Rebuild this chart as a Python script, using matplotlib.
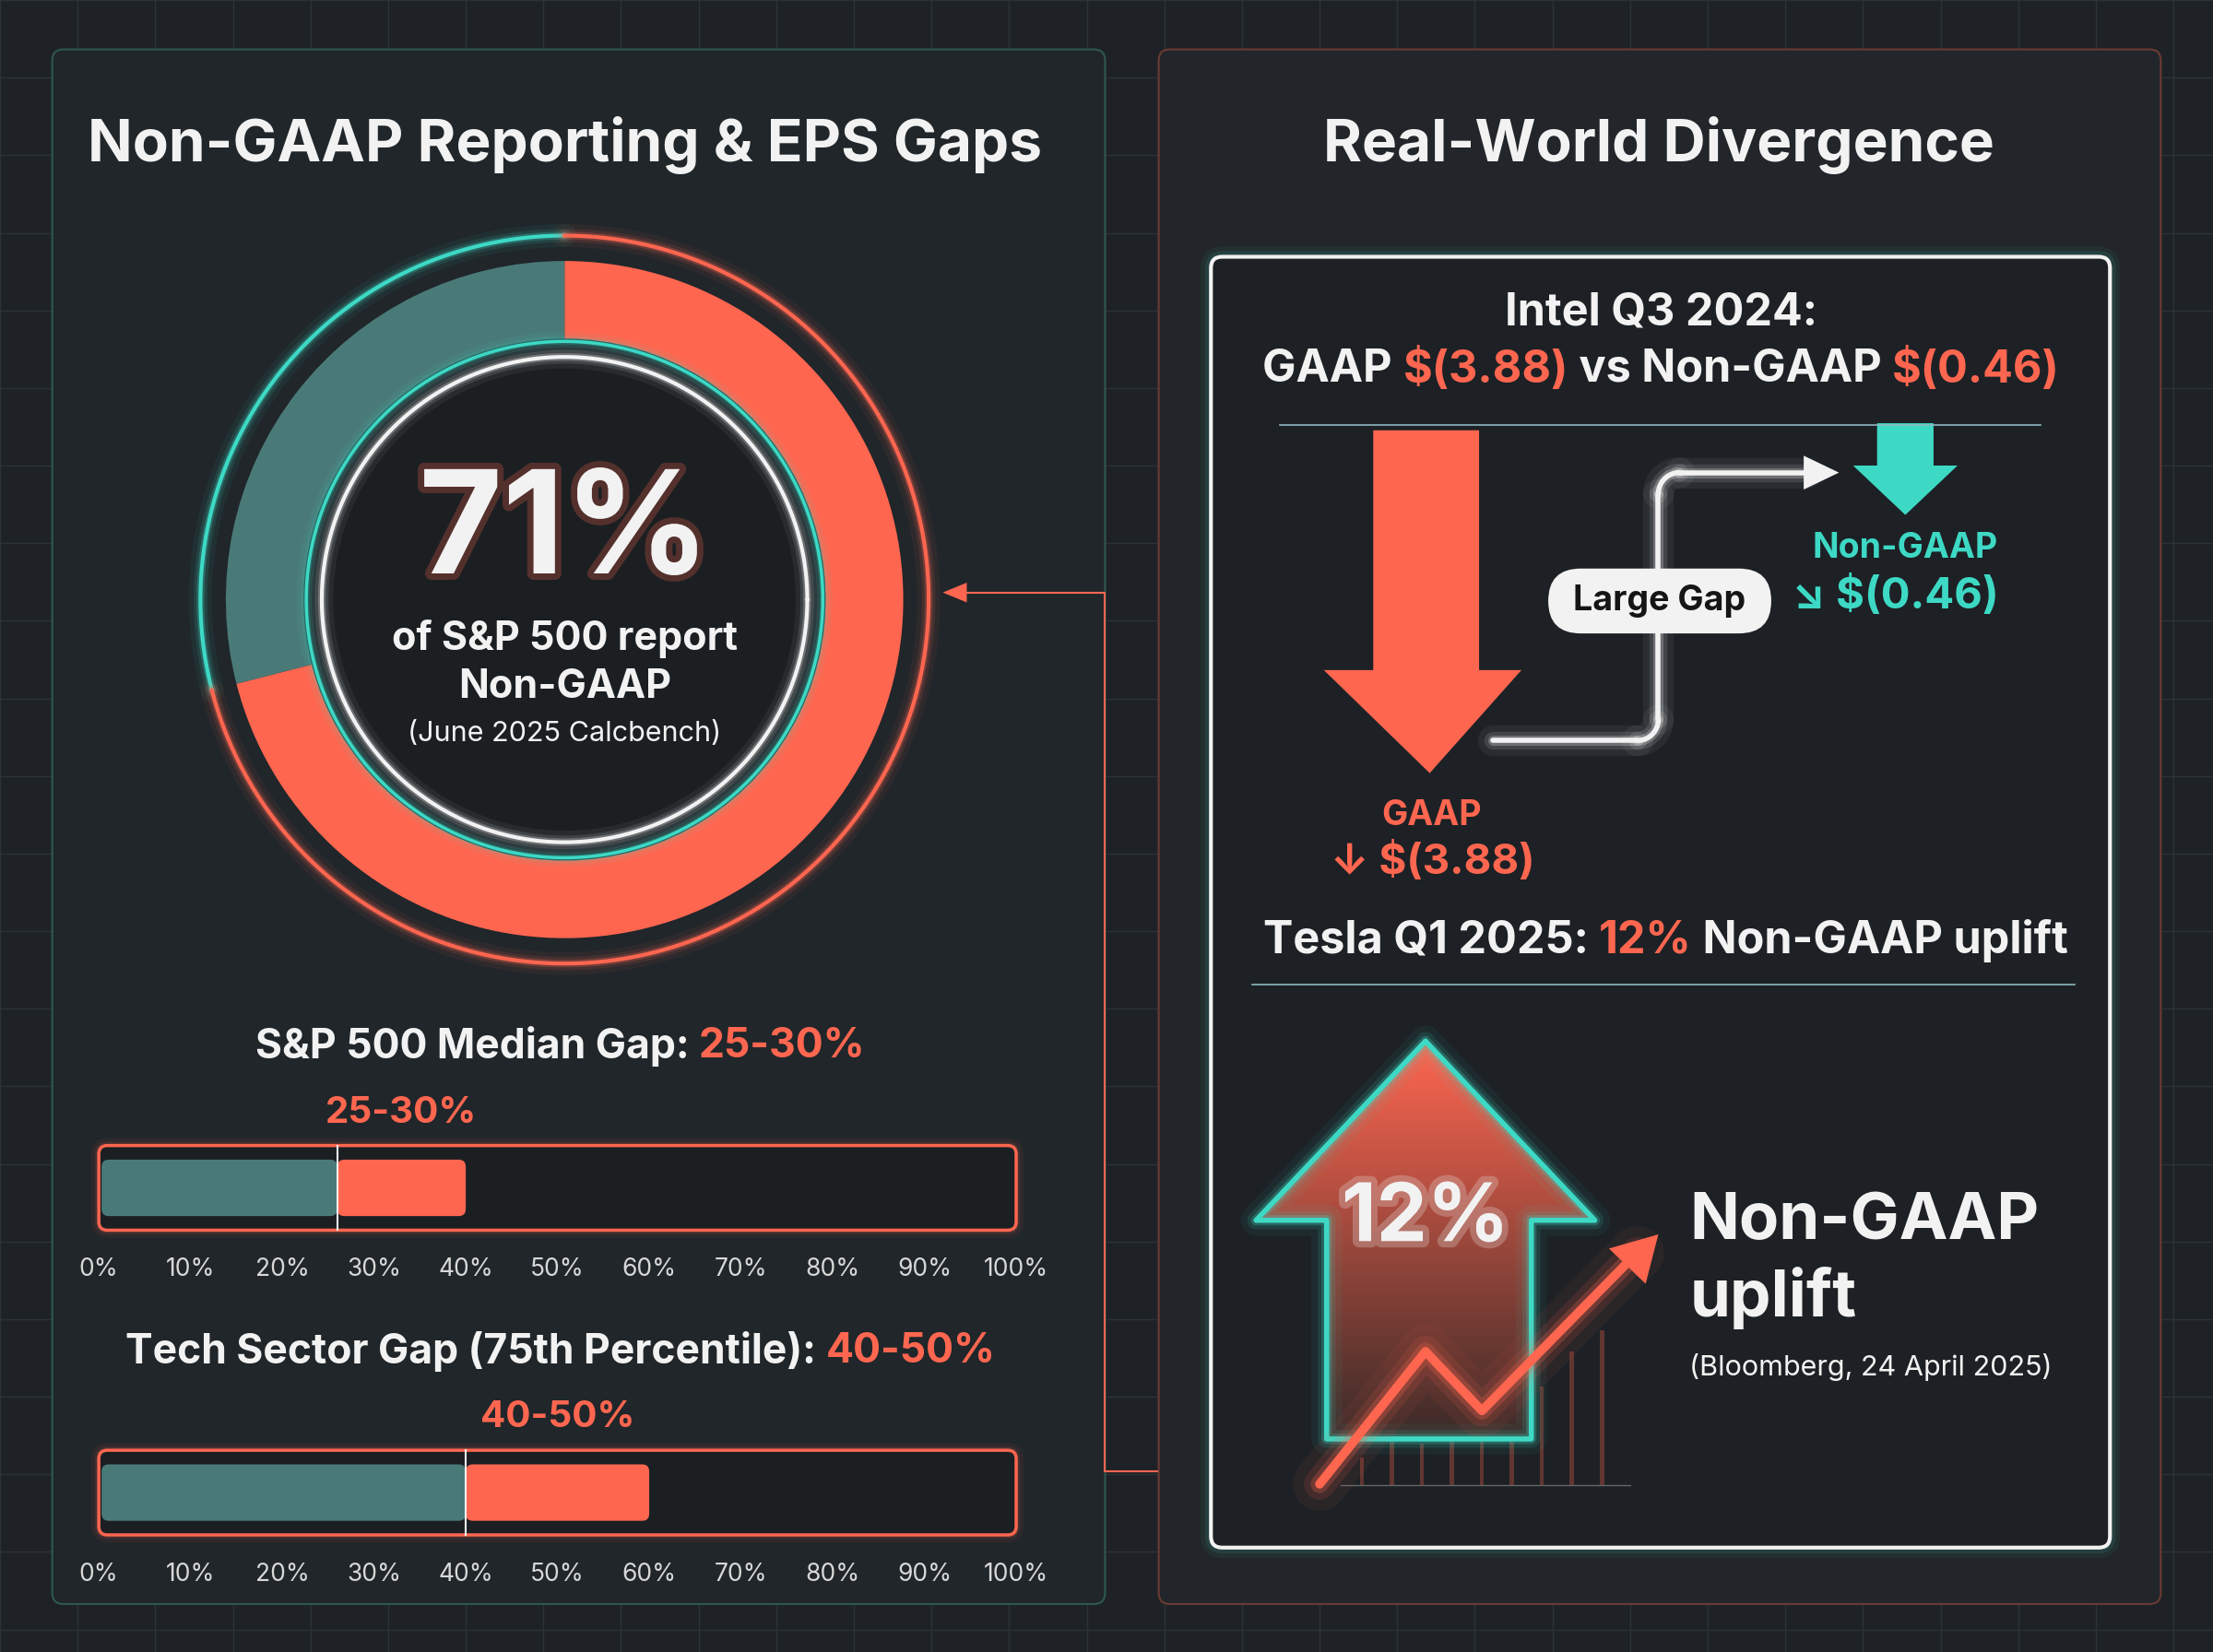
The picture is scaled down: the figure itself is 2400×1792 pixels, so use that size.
import matplotlib.pyplot as plt
import matplotlib.patheffects as pe
from matplotlib.patches import Wedge, Circle, FancyBboxPatch, Rectangle, Polygon
from matplotlib.colors import LinearSegmentedColormap
import numpy as np

# --- data ---
donut_labels = ["Non-GAAP", "GAAP only"]
donut_share = [71, 29]
gap_titles = ["S&P 500 Median Gap: ", "Tech Sector Gap (75th Percentile): "]
gap_ranges = ["25-30%", "40-50%"]
gap_teal = [26, 40]      # teal fill end (%)
gap_red = [40, 60]       # red fill end (%)
tick_labels = ["0%", "10%", "20%", "30%", "40%", "50%", "60%", "70%", "80%", "90%", "100%"]
intel_gaap = "$(3.88)"
intel_nongaap = "$(0.46)"
tesla_uplift = "12%"
spark_heights = [20, 35, 30, 55, 50, 75, 70, 95, 110]

BG = "#1e2226"
RED = "#ff6650"
TEAL = "#3dd9c5"
DIM = "#4a7a78"
WHITE = "#f2f2f2"
FONT = "Inter"

fig = plt.figure(figsize=(24, 17.92), dpi=100)
fig.patch.set_facecolor(BG)
ax = fig.add_axes([0, 0, 1, 1])
ax.set_xlim(0, 1568)
ax.set_ylim(1171, 0)
ax.axis("off")
scale = 1568 / (fig.dpi * 24)

# background grid
for g in np.arange(0, 1568, 55):
    ax.axvline(g, color="#2c3338", lw=1, zorder=0)
for g in np.arange(0, 1171, 55):
    ax.axhline(g, color="#2c3338", lw=1, zorder=0)


def txt(x, y, s, size, color=WHITE, weight="bold", ha="center", glow=None, **kw):
    eff = []
    if glow:
        eff = [pe.withStroke(linewidth=10, foreground=glow, alpha=0.25)]
    return ax.text(x, y, s, fontsize=size, color=color, fontweight=weight, ha=ha,
                   va="center", family=FONT, path_effects=eff, **kw)


def multi_txt(xc, y, parts, size, z=5):
    fig.canvas.draw()
    objs = [txt(0, y, s, size, color=c, ha="left", zorder=z) for s, c in parts]
    ws = [o.get_window_extent(renderer=fig.canvas.get_renderer()).width for o in objs]
    x = xc - sum(ws) * scale / 2
    for o, w in zip(objs, ws):
        o.set_x(x)
        x += w * scale


def glow_line(xs, ys, color, lw, z=3):
    for w, a in [(lw * 6, 0.06), (lw * 3.5, 0.12), (lw * 2, 0.25)]:
        ax.plot(xs, ys, color=color, lw=w, alpha=a, solid_capstyle="round", zorder=z)
    ax.plot(xs, ys, color=color, lw=lw, solid_capstyle="round", zorder=z)


# panels
ax.add_patch(FancyBboxPatch((37, 35), 746, 1102, boxstyle="round,pad=0,rounding_size=8",
                            fc="#20262a", ec="#2f5752", lw=1.5, zorder=1))
ax.add_patch(FancyBboxPatch((821, 35), 710, 1102, boxstyle="round,pad=0,rounding_size=8",
                            fc="#22262a", ec="#6a3a33", lw=1.5, zorder=1))

txt(400, 103, "Non-GAAP Reporting & EPS Gaps", 46)
txt(1175, 103, "Real-World Divergence", 46)

# donut (y axis inverted: data angle 270 = screen top, increasing = screen clockwise)
cx, cy = 400, 425
ang_red = donut_share[0] / sum(donut_share) * 360
ax.add_patch(Wedge((cx, cy), 240, 270, 270 + ang_red, width=55, fc=RED, ec="none", zorder=3))
ax.add_patch(Wedge((cx, cy), 240, 270 + ang_red, 270 + 360, width=55, fc=DIM, ec="none", zorder=3))
th_t = np.radians(np.linspace(90, 90 - ang_red + 360, 200) + 0)
# screen-angle arcs for the thin outer ring
th_r = np.radians(np.linspace(90 - ang_red, 90, 200))
glow_line(cx + 258 * np.cos(th_t), cy - 258 * np.sin(th_t), TEAL, 3)
glow_line(cx + 258 * np.cos(th_r), cy - 258 * np.sin(th_r), RED, 3)
th = np.radians(np.linspace(0, 360, 300))
glow_line(cx + 183 * np.cos(th), cy - 183 * np.sin(th), TEAL, 2.5)
ax.add_patch(Circle((cx, cy), 172, fc="#1b1f22", ec="none", zorder=4))
glow_line(cx + 172 * np.cos(th), cy - 172 * np.sin(th), WHITE, 3, z=5)
txt(400, 380, "71%", 112, glow=RED, zorder=6)
txt(400, 453, "of S&P 500 report", 31, zorder=6)
txt(400, 487, "Non-GAAP", 31, zorder=6)
txt(400, 520, "(June 2025 Calcbench)", 22, weight="normal", zorder=6)

# gap bars
x0, x1 = 70, 720


def px(v):
    return x0 + (x1 - x0) * v / 100


title_y = [742, 958]
label_y = [789, 1005]
bar_y = [812, 1028]
for i in range(2):
    multi_txt(397, title_y[i], [(gap_titles[i], WHITE), (gap_ranges[i], RED)], 32)
    txt(px((gap_teal[i] + gap_red[i]) / 2), label_y[i], gap_ranges[i], 29, color=RED)
    h = 60
    for w, a in [(12, 0.06), (6, 0.12)]:
        ax.add_patch(FancyBboxPatch((x0, bar_y[i]), x1 - x0, h, boxstyle="round,pad=0,rounding_size=6",
                                    fc="none", ec=RED, lw=w, alpha=a, zorder=2))
    ax.add_patch(FancyBboxPatch((x0, bar_y[i]), x1 - x0, h, boxstyle="round,pad=0,rounding_size=6",
                                fc="#1b1f22", ec=RED, lw=2.5, zorder=2))
    ax.add_patch(FancyBboxPatch((x0 + 2, bar_y[i] + 10), px(gap_teal[i]) - x0 - 2, h - 20,
                                boxstyle="round,pad=0,rounding_size=5", fc=DIM, ec="none", zorder=3))
    ax.add_patch(FancyBboxPatch((px(gap_teal[i]), bar_y[i] + 10), px(gap_red[i]) - px(gap_teal[i]), h - 20,
                                boxstyle="round,pad=0,rounding_size=5", fc=RED, ec="none", zorder=3))
    ax.plot([px(gap_teal[i])] * 2, [bar_y[i], bar_y[i] + h], color=WHITE, lw=1.5, zorder=4)
    for k, lab in enumerate(tick_labels):
        txt(px(k * 10), bar_y[i] + 88, lab, 19, weight="normal", color="#d8d8d8")

# right inner box
for w, a in [(16, 0.05), (9, 0.1)]:
    ax.add_patch(FancyBboxPatch((858, 182), 637, 915, boxstyle="round,pad=0,rounding_size=8",
                                fc="none", ec=TEAL, lw=w, alpha=a, zorder=2))
ax.add_patch(FancyBboxPatch((858, 182), 637, 915, boxstyle="round,pad=0,rounding_size=8",
                            fc="#1d2125", ec=WHITE, lw=3, zorder=2))

txt(1177, 222, "Intel Q3 2024:", 35, zorder=5)
multi_txt(1177, 262, [("GAAP ", WHITE), (intel_gaap, RED), (" vs Non-GAAP ", WHITE), (intel_nongaap, RED)], 35)
ax.plot([907, 1446], [301, 301], color="#8fb7c0", lw=1.2, zorder=5)

# big red down arrow
ax.add_patch(Polygon([(973, 305), (1048, 305), (1048, 475), (1078, 475), (1013, 548),
                      (938, 475), (973, 475)], closed=True, fc=RED, ec="none", zorder=4))
txt(1014, 578, "GAAP", 27, color=RED, zorder=5)
txt(1015, 611, "\u2193 " + intel_gaap, 33, color=RED, zorder=5)

# small teal arrow
ax.add_patch(Polygon([(1330, 300), (1370, 300), (1370, 330), (1387, 330), (1350, 365),
                      (1313, 330), (1330, 330)], closed=True, fc=TEAL, ec="none", zorder=4))
txt(1350, 389, "Non-GAAP", 27, color=TEAL, zorder=5)
txt(1343, 423, "\u2198 " + intel_nongaap, 34, color=TEAL, zorder=5)

# connector
glow_line([1058, 1160], [525, 525], WHITE, 4, z=4)
t = np.linspace(0, np.pi / 2, 20)
glow_line(1160 + 15 * np.sin(t), 510 + 15 * np.cos(t), WHITE, 4, z=4)
glow_line([1175, 1175], [510, 350], WHITE, 4, z=4)
glow_line(1190 - 15 * np.cos(t), 350 - 15 * np.sin(t), WHITE, 4, z=4)
glow_line([1190, 1280], [335, 335], WHITE, 4, z=4)
ax.add_patch(Polygon([(1278, 323), (1303, 335), (1278, 347)], closed=True, fc=WHITE, zorder=4))
ax.add_patch(FancyBboxPatch((1097, 403), 158, 46, boxstyle="round,pad=0,rounding_size=23",
                            fc=WHITE, ec="none", zorder=5))
txt(1176, 426, "Large Gap", 27, color="#151515", zorder=6)

# Tesla
multi_txt(1180, 667, [("Tesla Q1 2025: ", WHITE), (tesla_uplift, RED), (" Non-GAAP uplift", WHITE)], 35)
ax.plot([887, 1470], [698, 698], color="#8fb7c0", lw=1.2, zorder=5)

# spark bars
bx = np.linspace(965, 1135, len(spark_heights))
for xb, hb in zip(bx, spark_heights):
    ax.add_patch(Rectangle((xb - 1.5, 1053 - hb), 3, hb, fc=RED, alpha=0.3, ec="none", zorder=3))
ax.plot([950, 1155], [1053, 1053], color="#666", lw=1, zorder=3)

# big up arrow with gradient
up_pts = [(1010, 738), (1130, 865), (1085, 865), (1085, 1020), (940, 1020), (940, 865), (890, 865)]
up = Polygon(up_pts, closed=True, fc="none", ec="none", zorder=4)
ax.add_patch(up)
grad = np.linspace(0.0, 1.0, 256).reshape(-1, 1)
cmap = LinearSegmentedColormap.from_list("g", ["#ff6650", "#3a2a28"])
im = ax.imshow(grad, extent=(890, 1130, 1020, 738), cmap=cmap, aspect="auto", zorder=4)
im.set_clip_path(up)
xs, ys = zip(*(up_pts + [up_pts[0]]))
glow_line(xs, ys, TEAL, 4, z=5)
txt(1010, 865, tesla_uplift, 63, glow=WHITE, zorder=7)

# zigzag red arrow
glow_line([935, 1010, 1050, 1160], [1052, 958, 1000, 888], RED, 7, z=6)
ax.add_patch(Polygon([(1175, 875), (1140, 885), (1166, 910)], closed=True, fc=RED, zorder=6))

txt(1197, 866, "Non-GAAP", 51, ha="left", zorder=5)
txt(1197, 920, "uplift", 51, ha="left", zorder=5)
txt(1197, 969, "(Bloomberg, 24 April 2025)", 22, weight="normal", ha="left", zorder=5)

# link line
ax.plot([820, 783, 783, 680], [1043, 1043, 420, 420], color=RED, lw=1.5, zorder=3)
ax.add_patch(Polygon([(668, 420), (685, 413), (685, 427)], closed=True, fc=RED, zorder=3))

fig.savefig("out.png", dpi=100, facecolor=BG)
